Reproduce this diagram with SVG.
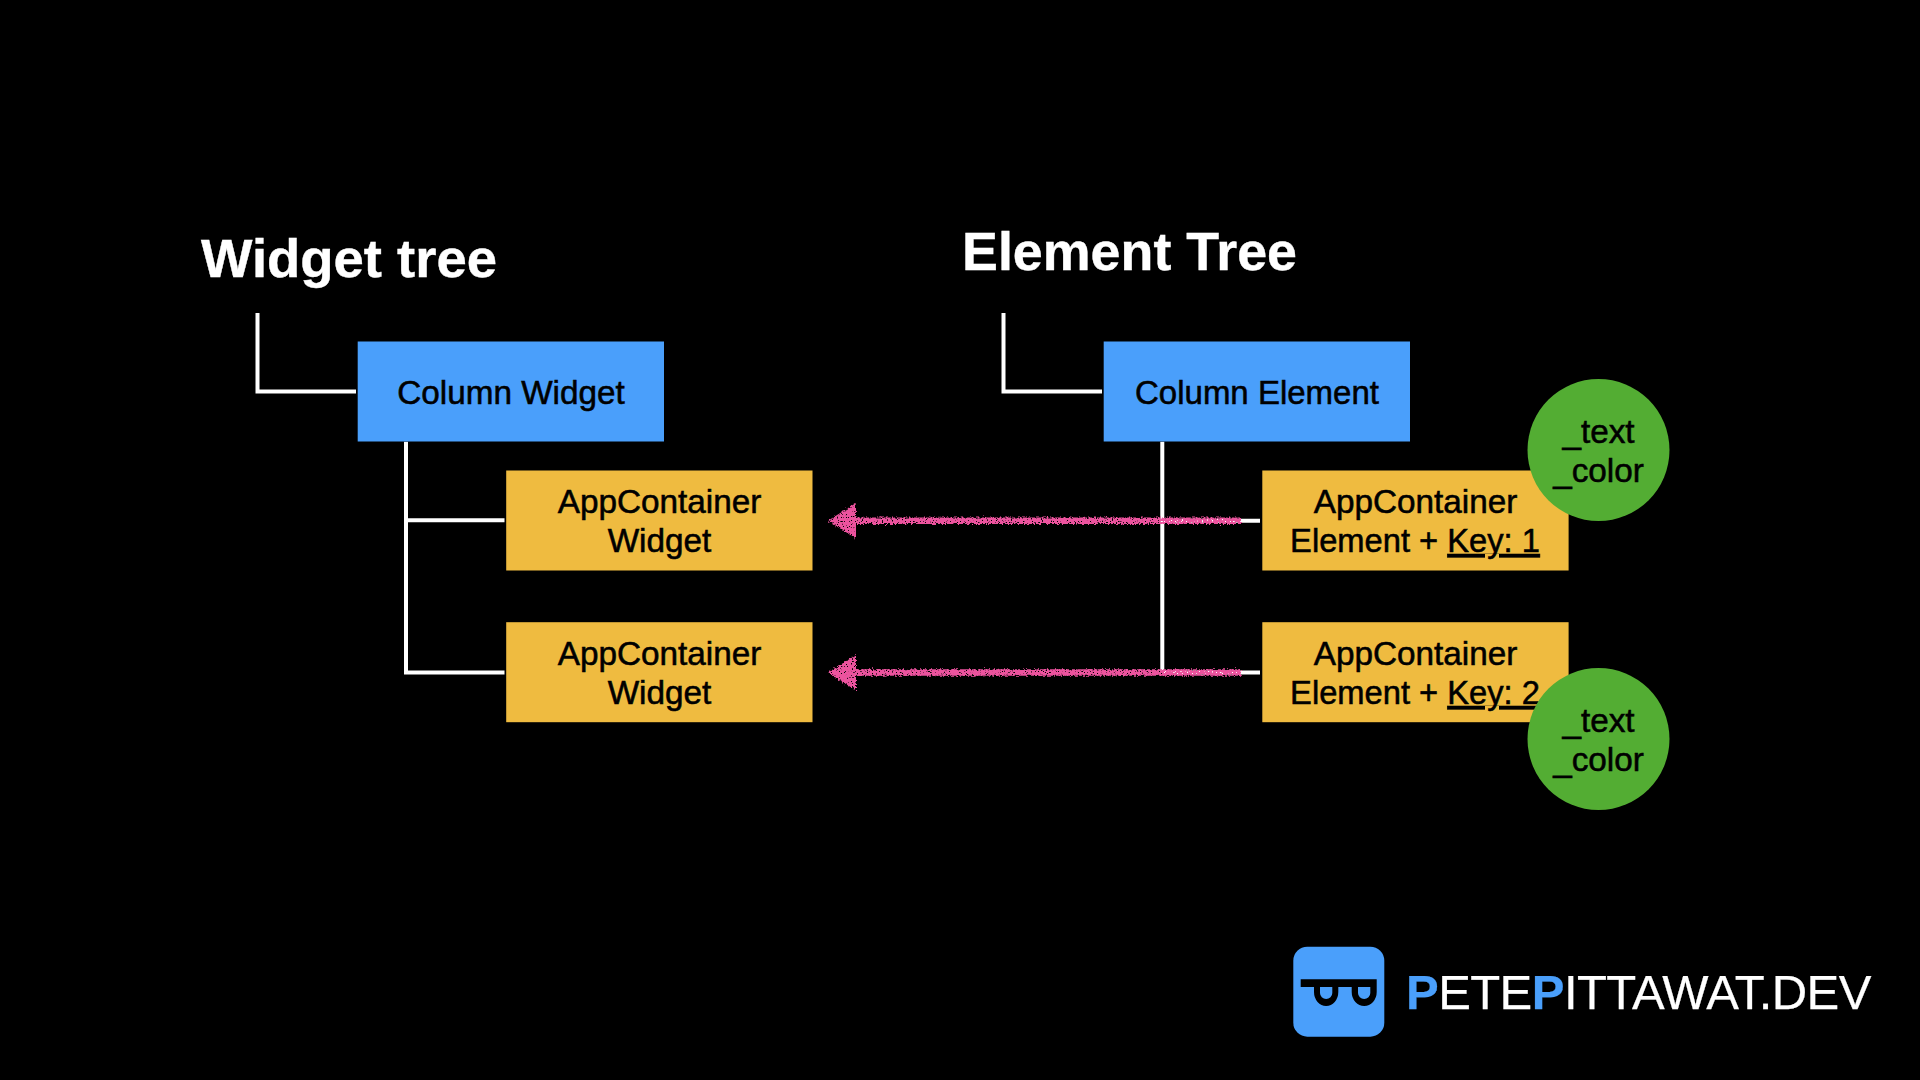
<svg xmlns="http://www.w3.org/2000/svg" width="1920" height="1080" viewBox="0 0 1920 1080">
<style>
text{font-family:"Liberation Sans",Arial,sans-serif;text-anchor:middle}
.t{font-size:33.3px;fill:#000;stroke:#000;stroke-width:.55px}
.k{font-size:32.7px}
.ce{font-size:33px}
.h{font-size:54px;font-weight:700;fill:#fff;stroke:#fff;stroke-width:.4px}
.blue{fill:#4a9ffb}.yel{fill:#efbb40}.grn{fill:#53ad33}
.c{fill:none;stroke:#fff;stroke-width:4}
.p{fill:none;stroke:#ec539e;stroke-width:6.500}
.ph{fill:#ec539e}
.logo{font-size:49px;letter-spacing:-.56px;fill:#fff;stroke:#fff;stroke-width:.25px;text-anchor:start}
.logo tspan{fill:#4a9ffb;stroke:#4a9ffb;font-weight:700}
</style>
<defs><filter id="rough" filterUnits="userSpaceOnUse" x="800" y="480" width="470" height="230"><feTurbulence type="fractalNoise" baseFrequency="0.55" numOctaves="2" seed="3" result="n"/><feDisplacementMap in="SourceGraphic" in2="n" scale="5" xChannelSelector="R" yChannelSelector="G" result="d"/><feTurbulence type="fractalNoise" baseFrequency="0.8" numOctaves="1" seed="8"/><feColorMatrix type="matrix" values="0 0 0 0 0 0 0 0 0 0 0 0 0 0 0 0 0 0 -14 5.200"/><feComposite in="d" operator="out"/></filter></defs>
<rect width="1920" height="1080" fill="#000"/>
<text class="h" x="349" y="277" textLength="296" lengthAdjust="spacingAndGlyphs">Widget tree</text>
<text class="h" x="1129.500" y="270" textLength="335" lengthAdjust="spacingAndGlyphs">Element Tree</text>
<g id="connectors">
<path class="c" d="M257.500 313V391.500H356M406 441.700V672.500H504.500M406 520.300H504.500"/>
<path class="c" d="M1003.500 313V391.500H1102M1162.300 441.700V672.500M1162.300 520.700H1260M1162.300 672.500H1260"/>
<g filter="url(#rough)">
<path class="p" d="M855 520.700H1241M855 672.500H1241"/>
<path class="ph" d="M828 520.700L856 503V538.500ZM828 672.500L856 655V690.500Z"/>
</g>
</g>
<g id="column-widget"><rect class="blue" x="357.700" y="341.500" width="306.300" height="100"/><text class="t" x="511" y="404">Column Widget</text></g>
<g id="app-widget-1"><rect class="yel" x="506.200" y="470.500" width="306.300" height="100"/><text class="t" x="659.500" y="513">AppContainer</text><text class="t" x="659.500" y="552">Widget</text></g>
<g id="app-widget-2"><rect class="yel" x="506.200" y="622.200" width="306.300" height="100"/><text class="t" x="659.500" y="665">AppContainer</text><text class="t" x="659.500" y="704">Widget</text></g>
<g id="column-element"><rect class="blue" x="1103.700" y="341.500" width="306.300" height="100"/><text class="t ce" x="1257" y="404">Column Element</text></g>
<g id="app-element-1"><rect class="yel" x="1262.300" y="470.500" width="306.300" height="100"/><text class="t" x="1415.500" y="513">AppContainer</text><text class="t k" x="1415" y="552">Element + <tspan text-decoration="underline">Key: 1</tspan></text></g>
<g id="app-element-2"><rect class="yel" x="1262.300" y="622.200" width="306.300" height="100"/><text class="t" x="1415.500" y="665">AppContainer</text><text class="t k" x="1415" y="704">Element + <tspan text-decoration="underline">Key: 2</tspan></text></g>
<g id="state-1"><circle class="grn" cx="1598.500" cy="450" r="71"/><text class="t" x="1598.500" y="443">_text</text><text class="t" x="1598.500" y="482">_color</text></g>
<g id="state-2"><circle class="grn" cx="1598.500" cy="739" r="71"/><text class="t" x="1598.500" y="732">_text</text><text class="t" x="1598.500" y="771">_color</text></g>
<g id="logo"><rect class="blue" x="1293.300" y="946.700" width="91" height="90" rx="14"/>
<path d="M1300.700 979.300H1376.700V992A12.500 14 0 0 1 1351.700 992V987H1338.300V992A12.150 14 0 0 1 1314 992V987H1300.700Z" fill="#000"/>
<path d="M1320 987H1332.300V993A6.150 6 0 0 1 1320 993ZM1358 987H1370.300V993A6.150 6 0 0 1 1358 993Z" fill="#4a9ffb"/>
<text class="logo" x="1406" y="1008.500"><tspan>P</tspan>ETE<tspan>P</tspan>ITTAWAT.DEV</text></g>
</svg>
